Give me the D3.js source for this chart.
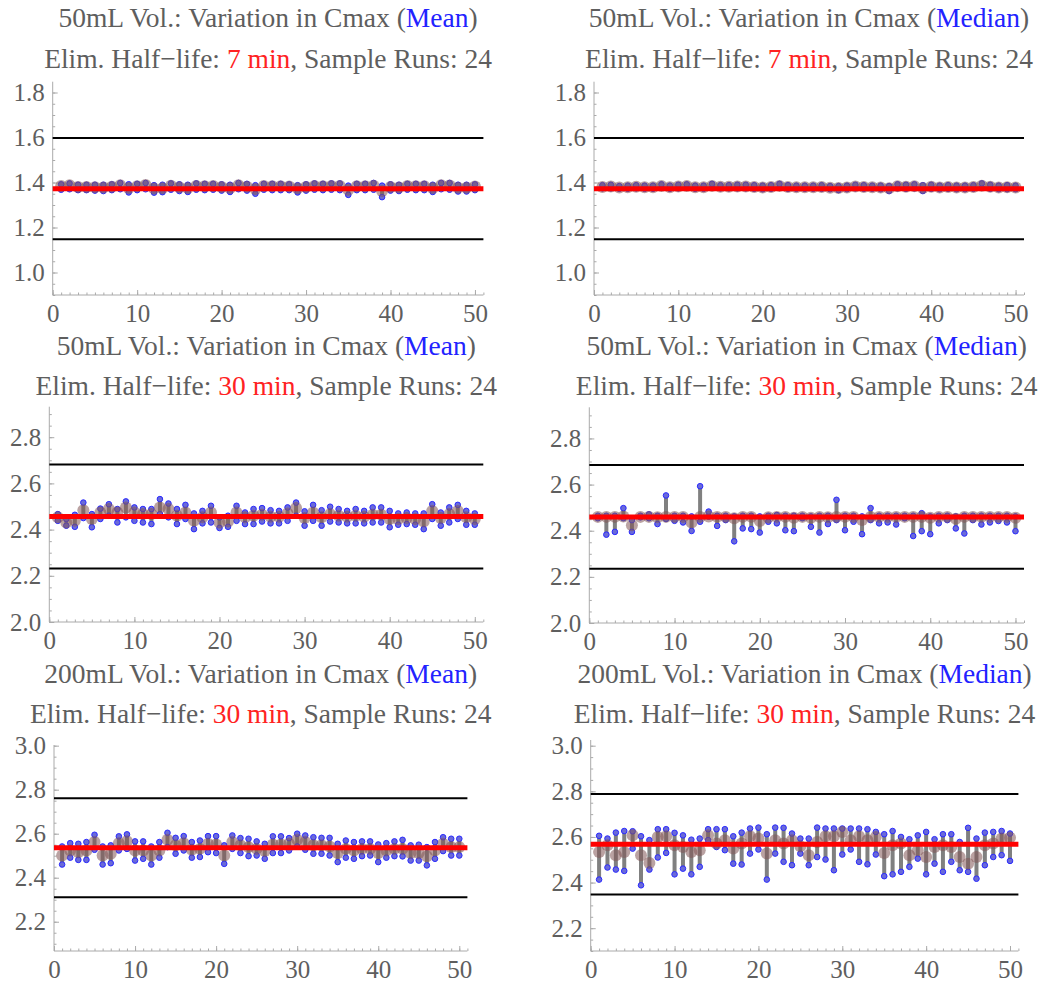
<!DOCTYPE html>
<html>
<head>
<meta charset="utf-8">
<script src="https://cdn.jsdelivr.net/npm/d3@7"></script>
<style>
  body { margin: 0; background: #fff; }
</style>
</head>
<body>
<div id="chart"></div>
<script>
// Run index on the x axis
const runs = d3.range(1, 51);

// 50mL, 7 min, mean
const p1Hi = [1.392,1.396,1.390,1.390,1.390,1.390,1.392,1.398,1.392,1.394,1.398,1.388,1.390,1.396,1.392,1.390,1.396,1.394,1.394,1.392,1.390,1.398,1.394,1.388,1.394,1.394,1.394,1.392,1.388,1.392,1.396,1.394,1.396,1.396,1.386,1.394,1.394,1.398,1.386,1.392,1.390,1.394,1.394,1.394,1.390,1.398,1.398,1.390,1.390,1.392];
const p1Lo = [1.368,1.370,1.366,1.366,1.364,1.362,1.366,1.370,1.356,1.366,1.370,1.355,1.357,1.368,1.362,1.358,1.368,1.366,1.368,1.364,1.358,1.370,1.364,1.350,1.368,1.366,1.366,1.366,1.356,1.364,1.368,1.366,1.368,1.366,1.345,1.366,1.366,1.368,1.335,1.364,1.362,1.368,1.366,1.366,1.358,1.370,1.368,1.360,1.360,1.366];
const p1Mid = [1.384,1.388,1.380,1.380,1.379,1.378,1.381,1.388,1.376,1.383,1.389,1.373,1.375,1.386,1.379,1.376,1.385,1.383,1.384,1.380,1.376,1.388,1.381,1.371,1.384,1.383,1.383,1.382,1.374,1.380,1.385,1.383,1.385,1.384,1.368,1.383,1.383,1.386,1.362,1.380,1.378,1.384,1.383,1.383,1.376,1.388,1.387,1.377,1.377,1.382];
const p1Ref = [1.372, 1.598, 1.148];

// 50mL, 7 min, median
const p2Hi = [1.388,1.390,1.384,1.386,1.388,1.386,1.386,1.392,1.386,1.390,1.392,1.386,1.386,1.394,1.388,1.388,1.390,1.390,1.388,1.386,1.388,1.394,1.388,1.386,1.386,1.386,1.388,1.384,1.384,1.386,1.390,1.388,1.386,1.386,1.384,1.392,1.390,1.392,1.388,1.390,1.386,1.388,1.386,1.386,1.388,1.396,1.390,1.386,1.388,1.386];
const p2Lo = [1.374,1.374,1.372,1.372,1.374,1.372,1.372,1.376,1.372,1.374,1.376,1.372,1.372,1.376,1.374,1.374,1.374,1.374,1.372,1.370,1.372,1.376,1.372,1.372,1.372,1.372,1.372,1.370,1.366,1.370,1.374,1.372,1.372,1.370,1.362,1.374,1.372,1.374,1.362,1.372,1.370,1.372,1.370,1.370,1.372,1.376,1.372,1.370,1.370,1.370];
const p2Mid = [1.380,1.382,1.378,1.379,1.381,1.379,1.379,1.384,1.379,1.382,1.384,1.379,1.379,1.385,1.381,1.381,1.382,1.382,1.380,1.378,1.380,1.385,1.380,1.379,1.379,1.379,1.380,1.377,1.376,1.378,1.382,1.380,1.379,1.378,1.374,1.383,1.381,1.383,1.376,1.381,1.378,1.380,1.378,1.378,1.380,1.386,1.381,1.378,1.379,1.378];
const p2Ref = [1.372, 1.598, 1.148];

// 50mL, 30 min, mean
const p3Hi = [2.467,2.446,2.464,2.517,2.467,2.491,2.510,2.489,2.522,2.496,2.489,2.489,2.532,2.513,2.489,2.507,2.470,2.481,2.503,2.453,2.460,2.503,2.474,2.489,2.493,2.484,2.481,2.496,2.517,2.479,2.507,2.484,2.499,2.489,2.481,2.489,2.481,2.496,2.496,2.481,2.470,2.474,2.470,2.470,2.510,2.474,2.496,2.507,2.481,2.470];
const p3Lo = [2.438,2.417,2.412,2.450,2.410,2.446,2.460,2.431,2.453,2.438,2.431,2.424,2.467,2.453,2.424,2.446,2.402,2.427,2.431,2.407,2.412,2.438,2.424,2.424,2.435,2.427,2.427,2.438,2.460,2.417,2.438,2.417,2.435,2.431,2.427,2.427,2.427,2.431,2.431,2.410,2.421,2.424,2.421,2.402,2.446,2.417,2.431,2.446,2.421,2.421];
const p3Mid = [2.453,2.431,2.438,2.484,2.446,2.474,2.489,2.474,2.496,2.474,2.467,2.467,2.496,2.489,2.460,2.474,2.438,2.453,2.474,2.431,2.435,2.474,2.453,2.460,2.464,2.456,2.456,2.470,2.493,2.450,2.474,2.453,2.467,2.460,2.456,2.460,2.456,2.464,2.464,2.446,2.446,2.450,2.446,2.435,2.481,2.450,2.467,2.481,2.453,2.446];
const p3Ref = [2.457, 2.682, 2.232];

// 50mL, 30 min, median
const p4Hi = [2.465,2.465,2.465,2.498,2.446,2.465,2.471,2.465,2.553,2.465,2.465,2.462,2.593,2.483,2.465,2.465,2.462,2.465,2.465,2.462,2.465,2.468,2.465,2.465,2.465,2.462,2.465,2.465,2.534,2.465,2.465,2.462,2.498,2.465,2.465,2.465,2.465,2.465,2.476,2.462,2.465,2.465,2.462,2.465,2.465,2.465,2.465,2.465,2.465,2.462];
const p4Lo = [2.454,2.383,2.395,2.454,2.395,2.458,2.454,2.429,2.451,2.443,2.436,2.399,2.439,2.461,2.421,2.446,2.354,2.410,2.407,2.392,2.439,2.432,2.402,2.398,2.454,2.417,2.392,2.429,2.446,2.402,2.439,2.385,2.446,2.432,2.436,2.427,2.454,2.377,2.398,2.385,2.432,2.446,2.410,2.388,2.446,2.427,2.436,2.442,2.436,2.398];
const p4Mid = [2.460,2.460,2.460,2.462,2.424,2.460,2.460,2.458,2.460,2.460,2.460,2.436,2.460,2.462,2.460,2.460,2.454,2.460,2.460,2.442,2.458,2.460,2.460,2.456,2.460,2.456,2.460,2.458,2.460,2.460,2.460,2.446,2.460,2.460,2.460,2.460,2.460,2.460,2.460,2.456,2.460,2.460,2.452,2.460,2.460,2.460,2.460,2.460,2.460,2.456];
const p4Ref = [2.460, 2.685, 2.235];

// 200mL, 30 min, mean
const p5Hi = [2.542,2.557,2.554,2.562,2.595,2.542,2.547,2.588,2.597,2.565,2.565,2.542,2.562,2.604,2.581,2.589,2.562,2.569,2.589,2.589,2.547,2.592,2.580,2.577,2.565,2.554,2.588,2.588,2.580,2.600,2.592,2.584,2.581,2.581,2.554,2.569,2.562,2.565,2.565,2.551,2.557,2.565,2.572,2.547,2.550,2.539,2.562,2.584,2.577,2.577];
const p5Lo = [2.460,2.491,2.481,2.481,2.527,2.460,2.466,2.524,2.531,2.478,2.486,2.460,2.491,2.539,2.509,2.524,2.491,2.494,2.516,2.512,2.463,2.531,2.512,2.498,2.501,2.486,2.512,2.512,2.524,2.542,2.527,2.509,2.509,2.501,2.471,2.491,2.486,2.498,2.501,2.471,2.491,2.498,2.497,2.478,2.478,2.456,2.486,2.521,2.501,2.501];
const p5Mid = [2.501,2.524,2.516,2.524,2.562,2.501,2.509,2.557,2.566,2.524,2.524,2.501,2.524,2.572,2.547,2.557,2.527,2.531,2.554,2.551,2.501,2.562,2.547,2.539,2.531,2.521,2.551,2.551,2.554,2.572,2.562,2.547,2.547,2.542,2.512,2.531,2.524,2.531,2.531,2.512,2.524,2.531,2.531,2.512,2.512,2.497,2.524,2.554,2.539,2.539];
const p5Ref = [2.536, 2.761, 2.311];

// 200mL, 30 min, median
const p6Hi = [2.605,2.593,2.619,2.626,2.625,2.603,2.586,2.634,2.634,2.618,2.607,2.588,2.593,2.634,2.634,2.634,2.603,2.619,2.637,2.641,2.612,2.641,2.640,2.615,2.593,2.593,2.641,2.637,2.637,2.637,2.637,2.637,2.634,2.622,2.612,2.626,2.600,2.590,2.607,2.622,2.590,2.612,2.612,2.578,2.640,2.593,2.619,2.622,2.626,2.615];
const p6Lo = [2.413,2.466,2.457,2.451,2.549,2.388,2.457,2.510,2.530,2.436,2.461,2.436,2.469,2.586,2.556,2.542,2.483,2.479,2.527,2.545,2.413,2.527,2.491,2.476,2.527,2.476,2.512,2.501,2.454,2.523,2.545,2.491,2.480,2.523,2.428,2.436,2.447,2.469,2.505,2.436,2.483,2.447,2.491,2.454,2.447,2.417,2.476,2.512,2.520,2.495];
const p6Mid = [2.534,2.564,2.520,2.534,2.607,2.520,2.486,2.600,2.603,2.564,2.556,2.534,2.542,2.607,2.571,2.586,2.549,2.571,2.603,2.593,2.527,2.586,2.571,2.586,2.559,2.520,2.578,2.603,2.603,2.622,2.586,2.603,2.586,2.600,2.530,2.564,2.571,2.520,2.542,2.512,2.556,2.564,2.556,2.512,2.483,2.512,2.564,2.571,2.593,2.597];
const p6Ref = [2.568, 2.788, 2.348];

// Titles
const volumes = ["50mL", "50mL", "50mL", "50mL", "200mL", "200mL"];
const stats = ["Mean", "Median", "Mean", "Median", "Mean", "Median"];
const halfLives = ["7 min", "7 min", "30 min", "30 min", "30 min", "30 min"];
const sampleRuns = 24;

// Y tick labels per panel
const yTicksA = [1.0, 1.2, 1.4, 1.6, 1.8];
const yTicksB = [2.0, 2.2, 2.4, 2.6, 2.8];
const yTicksC = [2.2, 2.4, 2.6, 2.8, 3.0];
const xTicks = [0, 10, 20, 30, 40, 50];

// Panel geometry (pixels) and y ranges
const panels = [
  { hi: p1Hi, lo: p1Lo, mid: p1Mid, ref: p1Ref, ticks: yTicksA, yDom: [0.9, 1.848],
    left: 52.7, right: 483.4, top: 81.7, bottom: 295, t1: 27, t2: 68 },
  { hi: p2Hi, lo: p2Lo, mid: p2Mid, ref: p2Ref, ticks: yTicksA, yDom: [0.9, 1.848],
    left: 594, right: 1024, top: 81.7, bottom: 295, t1: 27, t2: 68 },
  { hi: p3Hi, lo: p3Lo, mid: p3Mid, ref: p3Ref, ticks: yTicksB, yDom: [2.0, 2.932],
    left: 49.3, right: 483.3, top: 406.7, bottom: 622, t1: 355, t2: 395 },
  { hi: p4Hi, lo: p4Lo, mid: p4Mid, ref: p4Ref, ticks: yTicksB, yDom: [2.0, 2.935],
    left: 589.3, right: 1024, top: 407.3, bottom: 623, t1: 355, t2: 395 },
  { hi: p5Hi, lo: p5Lo, mid: p5Mid, ref: p5Ref, ticks: yTicksC, yDom: [2.067, 3.003],
    left: 54, right: 467.4, top: 745, bottom: 951, t1: 683, t2: 723 },
  { hi: p6Hi, lo: p6Lo, mid: p6Mid, ref: p6Ref, ticks: yTicksC, yDom: [2.1, 3.025],
    left: 590.7, right: 1018.4, top: 740, bottom: 951, t1: 683, t2: 723 }
];

const serif = '"Liberation Serif", "Times New Roman", serif';
const textGray = "#5e5e5e";
const axisGray = "#aaaaaa";

const svg = d3.select("#chart")
  .append("svg")
  .attr("width", 1044)
  .attr("height", 985);

panels.forEach((p, i) => {
  const x = d3.scaleLinear().domain([0, 51]).range([p.left, p.right]);
  const y = d3.scaleLinear().domain(p.yDom).range([p.bottom, p.top]);
  const g = svg.append("g");
  const cx = (p.left + p.right) / 2;

  // Two-line title
  const l1 = g.append("text").attr("x", cx).attr("y", p.t1)
    .attr("text-anchor", "middle").attr("font-size", 27.5).attr("fill", textGray)
    .style("font-family", serif);
  l1.append("tspan").text(volumes[i] + " Vol.: Variation in Cmax (");
  l1.append("tspan").attr("fill", "#2222ff").text(stats[i]);
  l1.append("tspan").text(")");

  const l2 = g.append("text").attr("x", cx).attr("y", p.t2)
    .attr("text-anchor", "middle").attr("font-size", 27.5).attr("fill", textGray)
    .style("font-family", serif);
  l2.append("tspan").text("Elim. Half\u2212life: ");
  l2.append("tspan").attr("fill", "#ff2222").text(halfLives[i]);
  l2.append("tspan").text(", Sample Runs: " + sampleRuns);

  // Minor ticks
  const yMinor = d3.range(Math.ceil(p.yDom[0] * 20), Math.floor(p.yDom[1] * 20) + 1).map(v => v / 20);
  g.append("g")
    .attr("transform", `translate(${p.left},0)`)
    .call(d3.axisLeft(y).tickValues(yMinor).tickSizeInner(-2.5).tickSizeOuter(0).tickFormat(""))
    .call(a => a.select(".domain").remove())
    .call(a => a.selectAll("line").attr("stroke", axisGray));
  g.append("g")
    .attr("transform", `translate(0,${p.bottom})`)
    .call(d3.axisBottom(x).tickValues(d3.range(0, 52)).tickSizeInner(-2.5).tickSizeOuter(0).tickFormat(""))
    .call(a => a.select(".domain").remove())
    .call(a => a.selectAll("line").attr("stroke", axisGray));

  // Major axes
  g.append("g")
    .attr("transform", `translate(${p.left},0)`)
    .call(d3.axisLeft(y).tickValues(p.ticks).tickSizeInner(-5).tickSizeOuter(0)
      .tickPadding(8).tickFormat(d3.format(".1f")))
    .call(a => a.select(".domain").attr("stroke", axisGray).attr("d", `M0,${p.bottom}V${p.top}`))
    .call(a => a.selectAll("line").attr("stroke", axisGray))
    .call(a => a.selectAll("text").attr("font-size", 25).attr("fill", textGray)
      .style("font-family", serif));
  g.append("g")
    .attr("transform", `translate(0,${p.bottom})`)
    .call(d3.axisBottom(x).tickValues(xTicks).tickSizeInner(-5).tickSizeOuter(0).tickPadding(9))
    .call(a => a.select(".domain").attr("stroke", axisGray).attr("d", `M${p.left},0H${p.right}`))
    .call(a => a.selectAll("line").attr("stroke", axisGray))
    .call(a => a.selectAll("text").attr("font-size", 25).attr("fill", textGray)
      .style("font-family", serif));

  // Limit lines
  g.selectAll(".limit")
    .data(p.ref.slice(1))
    .enter()
    .append("line")
    .attr("x1", p.left).attr("x2", p.right)
    .attr("y1", d => y(d)).attr("y2", d => y(d))
    .attr("stroke", "#000").attr("stroke-width", 2);

  // Range bars
  g.selectAll(".bar")
    .data(runs)
    .enter()
    .append("line")
    .attr("x1", d => x(d)).attr("x2", d => x(d))
    .attr("y1", (d, j) => y(p.lo[j])).attr("y2", (d, j) => y(p.hi[j]))
    .attr("stroke", "#808080").attr("stroke-width", 4);

  // Blue end points
  [p.lo, p.hi].forEach(arr => {
    g.selectAll(null)
      .data(runs)
      .enter()
      .append("circle")
      .attr("cx", d => x(d))
      .attr("cy", (d, j) => y(arr[j]))
      .attr("r", 2.8)
      .attr("fill", "#6a6ad8")
      .attr("stroke", "#2a2aff")
      .attr("stroke-width", 1);
  });

  // Centre values
  g.selectAll(".mid")
    .data(runs)
    .enter()
    .append("circle")
    .attr("cx", d => x(d))
    .attr("cy", (d, j) => y(p.mid[j]))
    .attr("r", 6)
    .attr("fill", "rgb(130,85,85)")
    .attr("fill-opacity", 0.55);

  // Reference value
  g.append("line")
    .attr("x1", p.left).attr("x2", p.right)
    .attr("y1", y(p.ref[0])).attr("y2", y(p.ref[0]))
    .attr("stroke", "#ff0000").attr("stroke-width", 5);
});
</script>
</body>
</html>
